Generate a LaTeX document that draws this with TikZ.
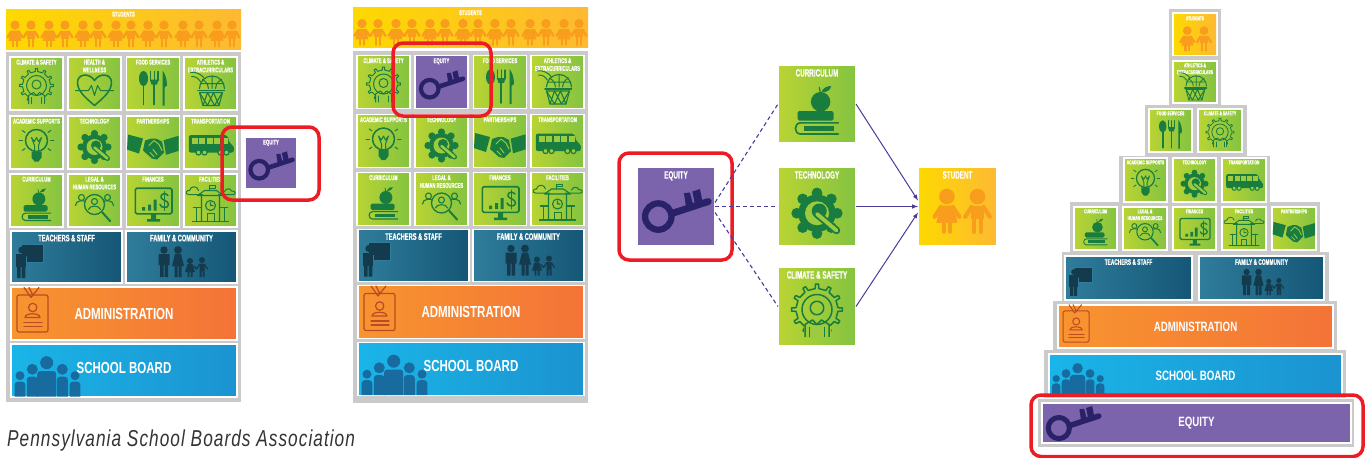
\documentclass[tikz,border=0pt]{standalone}
\usepackage{fontspec}
\newfontfamily\tilefont[FakeStretch=0.6,FakeBold=0.5]{Liberation Sans}
\newfontfamily\barfont[FakeStretch=0.72]{Liberation Sans}
\newfontfamily\capfont[FakeStretch=0.75,LetterSpace=4.5]{Liberation Sans}

\definecolor{panelgrey}{HTML}{CBCACA}
\definecolor{dkgreen}{HTML}{187D3F}
\definecolor{tilelight}{HTML}{9CCB3F}
\definecolor{keyblue}{HTML}{2A2268}
\definecolor{childorange}{HTML}{F99D1C}
\definecolor{dkteal}{HTML}{143A4D}
\definecolor{badgered}{HTML}{BC4A22}
\definecolor{boardblue}{HTML}{176B9E}
\definecolor{linkblue}{HTML}{4B3A9C}
\definecolor{redbox}{HTML}{ED1C24}
\definecolor{tilegreenl}{HTML}{B9D433}
\definecolor{tilegreenr}{HTML}{84C341}
\definecolor{studentl}{HTML}{FDD900}
\definecolor{studentm}{HTML}{FFD166}
\definecolor{studentr}{HTML}{FDB933}
\definecolor{teall}{HTML}{2F7D9B}
\definecolor{tealr}{HTML}{155676}
\definecolor{adminl}{HTML}{F7952F}
\definecolor{adminr}{HTML}{F47338}
\definecolor{boardl}{HTML}{1AB5E8}
\definecolor{boardr}{HTML}{1B93D0}
\definecolor{equitypurple}{HTML}{7B64AB}

\def\icsc{1}
\def\labfont{\tilefont\bfseries\fontsize{7}{7.8}\selectfont}
\def\barfontset{\barfont\bfseries\fontsize{16}{18}\selectfont}
\def\labdrop{2.5}
\def\barup{0}

\tikzset{
    ic/.style={line width=#1*\icsc, line cap=round, line join=round},
    tilebox/.style={anchor=north west, inner sep=0, outer sep=0, draw=white, line width=1.5},
    greentile/.style={tilebox, left color=tilegreenl, right color=tilegreenr},
    studenttile/.style={tilebox, left color=studentl, middle color=studentm, right color=studentr},
    tealtile/.style={tilebox, left color=teall, right color=tealr},
    admintile/.style={tilebox, left color=adminl, right color=adminr},
    boardtile/.style={tilebox, left color=boardl, right color=boardr},
    equitytile/.style={tilebox, fill=equitypurple},
    tilelabel/.style={anchor=north, inner sep=0, align=center, text=white, font=\labfont},
    barlabel/.style={inner sep=0, text=white, font=\barfontset},
    redframe/.style={draw=redbox, line width=3.5, rounded corners=10},
    dashlink/.style={draw=linkblue, line width=1.1, dash pattern=on 4pt off 3pt},
    solidlink/.style={draw=linkblue, line width=1, -latex},
}

\tikzset{
    pics/key/.style={code={
        \draw[keyblue, ic=4.2] (-11.8,6.7) circle[radius=8.8];
        \draw[keyblue, ic=4.6] (-2,4.4) -- (21.5,-3.3);
        \fill[keyblue] (5.3,-8.9) -- (9.3,-9.3) -- (11.5,-1) -- (6.7,0.5) -- cycle;
        \fill[keyblue] (10.9,-10) -- (16,-11.6) -- (17.8,-2.5) -- (12.7,-1) -- cycle;
    }},
    pics/childa/.style={code={
        \fill[childorange] (0,-11) circle[radius=5.2];
        \fill[childorange] (-4.5,-5) -- (4.5,-5) -- (7,6.5) -- (-7,6.5) -- cycle;
        \draw[childorange, ic=2.8] (-4,-4) -- (-8.2,2.5) (4,-4) -- (8.2,2.5);
        \draw[childorange, ic=2.6] (-2.2,6) -- (-2.2,12.5) (2.2,6) -- (2.2,12.5);
    }},
    pics/childb/.style={code={
        \fill[childorange] (0,-11) circle[radius=5.2];
        \fill[childorange] (-4.5,-5) -- (4.5,-5) -- (4.5,4) -- (-4.5,4) -- cycle;
        \draw[childorange, ic=2.8] (-4,-4) -- (-8.2,2.5) (4,-4) -- (8.2,2.5);
        \draw[childorange, ic=3] (-2.3,4) -- (-2.3,12.5) (2.3,4) -- (2.3,12.5);
    }},
    pics/climategear/.style={code={
        \draw[dkgreen, ic=1, shift={(0,2)}] (-5:14) \foreach \a in {0,30,...,330}{ -- ({\a-5}:14) -- ({\a-3.5}:17) -- ({\a+3.5}:17) -- ({\a+5}:14) } -- cycle;
        \draw[dkgreen, ic=1] (0,2) circle[radius=10] (0,1) circle[radius=4.5];
        \fill[tilelight] (-9,13) rectangle (9,21);
        \draw[dkgreen, ic=1] (-8,20) -- (-8,12) -- (-3,9) -- (0,12) -- (3,9) -- (8,12) -- (8,20);
        \draw[dkgreen, ic=1] (-5,20) -- (-5,14) (5,20) -- (5,14);
    }},
    pics/heart/.style={code={
        \draw[dkgreen, ic=1.5] (0,22) .. controls (-8,15) and (-17,8) .. (-17,-1) .. controls (-17,-10) and (-5,-11) .. (0,-3) .. controls (5,-11) and (17,-10) .. (17,-1) .. controls (17,8) and (8,15) .. (0,22);
        \draw[dkgreen, ic=1] (-19,7) -- (-6,7) -- (-3,2) -- (0,12) -- (3,2) -- (6,7) -- (19,7);
    }},
    pics/cutlery/.style={code={
        \fill[dkgreen] (-9.5,-5) ellipse[x radius=4.5, y radius=7.5];
        \draw[dkgreen, ic=1.9] (-9.5,0) -- (-9.5,21);
        \draw[dkgreen, ic=1.2] (-2.5,-12) -- (-2.5,-3) (1.3,-12) -- (1.3,-3) (5,-12) -- (5,-3);
        \fill[dkgreen] (-3,-4) -- (5.5,-4) -- (4,1) -- (-1.5,1) -- cycle;
        \draw[dkgreen, ic=1.9] (1.3,0) -- (1.3,21);
        \fill[dkgreen] (9.5,-13) -- (9.5,22) -- (11.5,22) -- (11.5,4) -- (14,2) .. controls (14,-5) and (12,-10) .. (9.5,-13) -- cycle;
    }},
    pics/basket/.style={code={
        \draw[dkgreen, ic=1.1] (-11,5) arc[start angle=180, end angle=360, radius=12.5];
        \draw[dkgreen, ic=1] (1.5,-7.5) -- (1.5,5) (-8,-4) .. controls (-3,-1) and (-2,2) .. (-2,5) (11,-4) .. controls (6,-1) and (5,2) .. (5,5) (-10,0) -- (13,0);
        \draw[dkgreen, ic=1] (-20,-11) .. controls (-14,-12) and (-9,-9) .. (-6,-5) (-19,-7) .. controls (-14,-7) and (-12,-5) .. (-10,-2);
        \draw[dkgreen, ic=1.9] (-12.5,7) -- (14,7);
        \draw[dkgreen, ic=1.1] (-11,9) -- (12,9) -- (8.5,22) -- (-7.5,22) -- cycle;
        \draw[dkgreen, ic=1.1] (-11,9) -- (-3,22) -- (3,9) -- (8.5,22) (12,9) -- (4,22) -- (-3,9) -- (-7.5,22);
    }},
    pics/bulb/.style={code={
        \draw[dkgreen, ic=1.5] (0,-2) circle[radius=11];
        \fill[dkgreen] (-5,9) -- (5,9) -- (5,15) -- (2,19) -- (-2,19) -- (-5,15) -- cycle;
        \draw[dkgreen, ic=1] (-2,8) -- (-2,3) -- (-5,-5) -- (-2,-1) -- (0,-5) -- (2,-1) -- (5,-5) -- (2,3) -- (2,8);
        \foreach \a in {-35,0,35,145,180,215}{
            \draw[dkgreen, ic=1, shift={(0,-2)}] (\a:14) -- (\a:17.5);
        }
    }},
    pics/wrenchgear/.style={code={
        \fill[dkgreen] (0,4.5) circle[radius=12.5];
        \foreach \a in {0,45,...,315}{
            \fill[dkgreen, shift={(0,4.5)}] (\a:13.5) circle[radius=3.6];
        }
        \fill[tilelight] (0,4.5) circle[radius=8];
        \fill[dkgreen] (1.5,3) circle[radius=5];
        \draw[dkgreen, ic=5] (0.5,5.5) -- (13,16);
        \draw[tilelight, ic=2.6] (0,5) -- (13,16);
    }},
    pics/handshake/.style={code={
        \fill[dkgreen] (-25,-8) -- (-10,-4) -- (-14,11) -- (-26,7) -- cycle;
        \fill[dkgreen] (25.7,-6.7) -- (10.7,-2.3) -- (13,12.3) -- (25.7,8.3) -- cycle;
        \fill[dkgreen] (-8,-2) -- (-2,-4) -- (3,-4) -- (9,-1) -- (11,10) -- (4,17) -- (-1,16) -- (-10,8) -- cycle;
        \draw[tilelight, ic=1] (-4,3) -- (1,-2) -- (6,2) -- (9,8) (-3,10) -- (1,14) (0,7) -- (4,12);
    }},
    pics/bus/.style={code={
        \fill[dkgreen, rounded corners=2] (-21.7,-7.3) -- (17,-7.3) -- (19,1) -- (23.3,3) -- (23.3,10) -- (-21.7,10) -- cycle;
        \foreach \wx in {-19,-11.5,-4,3.5,11}{
            \fill[tilelight] (\wx,-5) rectangle ++(6,6);
        }
        \foreach \wx in {-12,-6,10,16}{
            \draw[dkgreen, fill=tilelight, ic=1.2] (\wx,10) circle[radius=2.6];
        }
    }},
    pics/applebooks/.style={code={
        \fill[dkgreen] (2.4,-1.5) circle[radius=6.5];
        \draw[dkgreen, ic=.8] (2.4,-7) -- (1.5,-11);
        \fill[dkgreen] (3,-8) .. controls (4,-11) and (7,-12) .. (9.5,-12) .. controls (9,-9) and (6,-7.5) .. (3,-8) -- cycle;
        \fill[dkgreen, rounded corners=1.5] (-13,4.7) -- (11,4.7) -- (11,11) -- (-13,11) -- cycle;
        \draw[dkgreen, ic=1.1] (14.2,12.6) -- (-11,12.6) .. controls (-15.5,12.6) and (-15.5,20) .. (-11,20) -- (14.2,20);
        \fill[dkgreen] (-9,14.5) rectangle (11.5,18.2);
    }},
    pics/hrpeople/.style={code={
        \draw[dkgreen, ic=1.3] (0,4) circle[radius=10];
        \draw[dkgreen, ic=2] (7.5,11.5) -- (15.7,20.7);
        \draw[dkgreen, ic=1.1] (0,1) circle[radius=3] (-6,9) .. controls (-5,4.5) and (5,4.5) .. (6,9);
        \draw[dkgreen, ic=1.1] (-13,-3) circle[radius=3] (13,-3) circle[radius=3];
        \draw[dkgreen, ic=1.1] (-19,5) .. controls (-19,-1) and (-10,0) .. (-9,1) (19,5) .. controls (19,-1) and (10,0) .. (9,1);
    }},
    pics/monitor/.style={code={
        \draw[dkgreen, ic=1.6, rounded corners=1.5] (-17.7,-12.3) rectangle (19,13.3);
        \fill[dkgreen] (-11,6.5) rectangle ++(3.2,3.5) (-5,4) rectangle ++(3.2,6) (0.5,-1) rectangle ++(3.2,11);
        \draw[dkgreen, ic=1.5] (15,-5) .. controls (13,-8) and (7,-7) .. (8,-3) .. controls (9,0) and (15.5,0) .. (15.5,4) .. controls (15.5,8) and (8,8) .. (7,4);
        \draw[dkgreen, ic=1] (11.3,-9) -- (11.3,10);
        \fill[dkgreen] (-2,13) rectangle (3,18.5) (-6,18.5) rectangle (7,21);
    }},
    pics/schoolhouse/.style={code={
        \draw[dkgreen, ic=1.1] (-13,-5) -- (13,-5) -- (6,-10) -- (-6,-10) -- cycle;
        \draw[dkgreen, ic=1] (-1,-10) -- (-1,-15) -- (5,-15) -- (5,-12.5) -- (-1,-12.5);
        \draw[dkgreen, ic=1.1] (-9,-5) -- (-9,21) (9,-5) -- (9,21) (0,5) circle[radius=5] (0,2) -- (0,5) -- (2.5,5);
        \draw[dkgreen, ic=1.3] (-17,7) -- (-9,7) (9,7) -- (17,7) (-14,7) -- (-14,21) (14,7) -- (14,21) (-18,21) -- (18,21);
        \draw[dkgreen, ic=1] (-3.5,21) -- (-3.5,13) -- (3.5,13) -- (3.5,21);
        \draw[dkgreen, ic=1] (-8,-6) -- (-22,-6) .. controls (-26,-6) and (-24,-11) .. (-21,-10) .. controls (-20,-15) and (-13,-15) .. (-12,-10);
        \draw[dkgreen, ic=1] (8,-6) -- (23,-6) .. controls (26,-6) and (25,-10) .. (21,-9.5) .. controls (20,-13) and (15,-12) .. (14,-9);
    }},
    pics/teacher/.style={code={
        \draw[teall, fill=dkteal, ic=.7] (10.7,-13) rectangle (32.3,5);
        \fill[dkteal] (10.7,-7) circle[radius=3.4];
        \fill[dkteal] (5,-3) rectangle (15,10);
        \draw[teall, ic=.7] (15.5,-1) -- (15.5,5);
        \draw[dkteal, ic=1.6] (14,-2) -- (23,1);
        \fill[dkteal] (6,10) rectangle (9.7,21) (10.7,10) rectangle (14.3,21);
    }},
    pics/family/.style={code={
        \fill[dkteal] (-17.5,-7) circle[radius=3.7] (-3.5,-7) circle[radius=3.9] (8.5,4) circle[radius=3] (20.5,3) circle[radius=3];
        \fill[dkteal] (-23,-3) rectangle (-12,8) (-21.5,8) rectangle (-18,20) (-17,8) rectangle (-13.5,20);
        \fill[dkteal] (-6.5,-3) -- (-0.5,-3) -- (2.5,9) -- (-9.5,9) -- cycle (-7,9) rectangle (-4,20) (-3,9) rectangle (0,20);
        \fill[dkteal] (6,7) -- (11,7) -- (13.5,15) -- (3.5,15) -- cycle (6,15) rectangle (7.8,20) (9.2,15) rectangle (11,20);
        \fill[dkteal] (18,6.5) rectangle (23,14) (18,14) rectangle (20,20) (21,14) rectangle (23,20);
        \draw[dkteal, ic=1.3] (23,7.5) -- (26,12) (18,7.5) -- (15,12) -- (12.5,9);
    }},
    pics/badge/.style={code={
        \draw[badgered, ic=1.2, rounded corners=2] (6,-18.5) rectangle (37,18.5);
        \draw[badgered, ic=1.2] (13,-26) -- (20,-16) -- (28,-26) (18,-26) -- (22,-18);
        \draw[badgered, ic=1.2] (21.7,-6) circle[radius=4.2] (14,4) .. controls (14,-1) and (29,-1) .. (29,4) -- cycle;
        \draw[badgered, ic=1.2] (13,9) -- (31,9) (13,13) -- (31,13);
    }},
    pics/boardfolk/.style={code={
        \foreach \cx/\hy/\hr/\hw/\top in {9/5.2/4.5/5.3/11.2, 64/5.2/4.5/5.3/11.2, 21.3/-1.2/5.5/5.5/6.2, 51.3/-1.2/5.5/5.5/6.2, 35.7/-7.8/6.5/9.5/0.5}{
            \fill[boardblue] (\cx,\hy) circle[radius=\hr];
            \fill[boardblue] (\cx-\hw,26) [rounded corners=3] -- (\cx-\hw,\top) -- (\cx+\hw,\top) [sharp corners] -- (\cx+\hw,26) -- cycle;
        }
    }},
}

\newcommand{\tile}[7]{
    \node[#6, minimum width={#4-#2}, minimum height={#5-#3}] (#1) at (#2,#3) {};
    \node[tilelabel] (#1-t) at ([yshift=-\labdrop]#1.north) {#7};
}
\newcommand{\bartile}[7]{
    \node[#6, minimum width={#4-#2}, minimum height={#5-#3}] (#1) at (#2,#3) {};
    \node[barlabel] (#1-t) at ([yshift=\barup]#1.center) {#7};
}
\newcommand{\tileicon}[3]{
    \def\icsc{#3}
    \pic[scale=#3] at (#1) {#2};
}

% one of the two school panels
\newcommand{\schoolpanel}[1]{
    \fill[panelgrey] (6,52) rectangle (241,402);
    \tile{#1band}{6}{9}{241}{49}{studenttile, draw=none}{STUDENTS}
    \foreach \cx/\ck in {15/childa,31/childb,49/childa,65/childb,83/childa,98/childb,116/childa,131/childb,148/childa,164/childb,183/childa,199/childb,217/childa,232/childb}{
        \tileicon{\cx,35}{\ck}{.9}
    }
    \foreach \nm/\tx/\ty/\lab/\ic in {
        climate/10/57/{CLIMATE \& SAFETY}/climategear,
        food/126.5/57/{FOOD SERVICES}/cutlery,
        athletics/184/57/{ATHLETICS \&\\EXTRACURRICULARS}/basket,
        academic/10/116/{ACADEMIC SUPPORTS}/bulb,
        technology/68/116/{TECHNOLOGY}/wrenchgear,
        partnerships/126.5/116/{PARTNERSHIPS}/handshake,
        transport/184/116/{TRANSPORTATION}/bus,
        curriculum/10/174/{CURRICULUM}/applebooks,
        legal/68/174/{LEGAL \&\\HUMAN RESOURCES}/hrpeople,
        finances/126.5/174/{FINANCES}/monitor,
        facilities/184/174/{FACILITIES}/schoolhouse}{
        \pgfmathsetmacro{\txx}{\tx+53}
        \pgfmathsetmacro{\tyy}{\ty+53}
        \tile{#1\nm}{\tx}{\ty}{\txx}{\tyy}{greentile}{\lab}
        \tileicon{#1\nm.center}{\ic}{1}
    }
    \begingroup
    \def\labfont{\tilefont\bfseries\fontsize{9.5}{11}\selectfont}
    \def\labdrop{3.5}
    \tile{#1teachers}{11}{231}{122}{283}{tealtile}{TEACHERS \& STAFF}
    \tileicon{#1teachers.west}{teacher}{1}
    \tile{#1family}{126}{231}{237}{283}{tealtile}{FAMILY \& COMMUNITY}
    \tileicon{#1family.center}{family}{1}
    \endgroup
    \bartile{#1admin}{11}{287}{237}{340}{admintile}{ADMINISTRATION}
    \tileicon{#1admin.west}{badge}{1}
    \def\barup{3}
    \bartile{#1board}{11}{344}{237}{397}{boardtile}{SCHOOL BOARD}
    \def\barup{0}
    \tileicon{#1board.west}{boardfolk}{1}
}

\begin{document}
\begin{tikzpicture}[x=1pt, y=-1pt]
    \useasboundingbox (0,0) rectangle (1369,458);

    % first panel
    \schoolpanel{a-}
    \tile{a-health}{68}{57}{121}{110}{greentile}{HEALTH \&\\WELLNESS}
    \tileicon{a-health.center}{heart}{1}
    \tile{a-equity}{245}{137}{297}{189}{equitytile}{EQUITY}
    \tileicon{a-equity.center}{key}{1}
    \draw[redframe] (222,127) rectangle (319,200);

    % second panel
    \fill[panelgrey] (353,399) rectangle (588,403);
    \begin{scope}[shift={(347,-1.5)}]
        \schoolpanel{b-}
        \tile{b-equity}{68}{57}{121}{110}{equitytile}{EQUITY}
        \tileicon{b-equity.center}{key}{1}
    \end{scope}
    \draw[redframe] (393,43) rectangle (491,116);

    % flow in the middle
    \def\labfont{\tilefont\bfseries\fontsize{10.5}{12}\selectfont}
    \def\labdrop{4}
    \tile{equity}{637}{167}{715}{246}{equitytile}{EQUITY}
    \tileicon{equity.center}{key}{1.5}
    \tile{curriculum}{778}{65}{856}{143}{greentile}{CURRICULUM}
    \tileicon{curriculum.center}{applebooks}{1.5}
    \tile{technology}{778}{167}{856}{246}{greentile}{TECHNOLOGY}
    \tileicon{technology.center}{wrenchgear}{1.5}
    \tile{climate}{778}{267}{856}{346}{greentile}{CLIMATE \& SAFETY}
    \tileicon{climate.center}{climategear}{1.5}
    \tile{student}{918}{167}{997}{246}{studenttile}{STUDENT}
    \tileicon{[shift={(-10.6,6.5)}]student.center}{childa}{1.5}
    \tileicon{[shift={(20,6.5)}]student.center}{childb}{1.5}
    \draw[redframe] (619,153) rectangle (732,260);

    \draw[dashlink] ([yshift=4]equity.east) -- (curriculum.west);
    \draw[dashlink] (equity.east) -- (technology.west);
    \draw[dashlink] ([yshift=-6]equity.east) -- (climate.west);
    \draw[solidlink] (curriculum.east) -- ([yshift=6]student.west);
    \draw[solidlink] (technology.east) -- (student.west);
    \draw[solidlink] (climate.east) -- ([yshift=-6]student.west);

    % pyramid
    \foreach \gx/\gy/\hx/\hy in {1169/9/1221/58, 1169/58/1221/105, 1145/105/1247/156, 1119/156/1270/202, 1070/202/1320/252, 1062/252/1329/301, 1053/301/1337/350, 1044/350/1346/398, 1038/399/1354/447}{
        \fill[panelgrey] (\gx,\gy) rectangle (\hx,\hy);
    }
    \fill[white] (1172,12) rectangle (1218,56);
    \def\labfont{\tilefont\bfseries\fontsize{5.6}{6.8}\selectfont}
    \def\labdrop{2.2}
    \tile{p-student}{1174}{14}{1216}{54}{studenttile, draw=none}{STUDENTS}
    \tileicon{[shift={(-7.7,6)}]p-student.center}{childa}{.85}
    \tileicon{[shift={(9,6)}]p-student.center}{childb}{.85}
    \foreach \nm/\tx/\ty/\ux/\uy/\lab/\ic in {
        athletics/1173/61/1217/103/{ATHLETICS \&\\EXTRACURRICULARS}/basket,
        food/1149/109/1192/152/{FOOD SERVICES}/cutlery,
        climate/1198/109/1242/152/{CLIMATE \& SAFETY}/climategear,
        academic/1124/158/1167/202/{ACADEMIC SUPPORTS}/bulb,
        technology/1173/158/1216/202/{TECHNOLOGY}/wrenchgear,
        transport/1222/158/1266/202/{TRANSPORTATION}/bus,
        curriculum/1074/207/1117/250/{CURRICULUM}/applebooks,
        legal/1123/207/1167/250/{LEGAL \&\\HUMAN RESOURCES}/hrpeople,
        finances/1173/207/1216/250/{FINANCES}/monitor,
        facilities/1222/207/1266/250/{FACILITIES}/schoolhouse,
        partnerships/1272/207/1316/250/{PARTNERSHIPS}/handshake}{
        \tile{p-\nm}{\tx}{\ty}{\ux}{\uy}{greentile}{\lab}
        \tileicon{p-\nm.center}{\ic}{.82}
    }
    \def\labfont{\tilefont\bfseries\fontsize{8}{9}\selectfont}
    \def\labdrop{3}
    \tile{p-teachers}{1065}{256}{1192}{300}{tealtile}{TEACHERS \& STAFF}
    \tileicon{p-teachers.west}{teacher}{.85}
    \tile{p-family}{1199}{256}{1324}{300}{tealtile}{FAMILY \& COMMUNITY}
    \tileicon{p-family.center}{family}{.85}
    \def\barfontset{\barfont\bfseries\fontsize{13.5}{16}\selectfont}
    \bartile{p-admin}{1058}{305}{1333}{348}{admintile}{ADMINISTRATION}
    \tileicon{p-admin.west}{badge}{.84}
    \def\barup{-1.5}
    \bartile{p-board}{1049}{354}{1342}{395}{boardtile}{SCHOOL BOARD}
    \def\barup{0}
    \tileicon{p-board.west}{boardfolk}{.8}
    \bartile{p-equity}{1042}{403}{1351}{443}{equitytile}{EQUITY}
    \tileicon{[xshift=31,yshift=3]p-equity.west}{key}{1.2}
    \draw[redframe] (1031,395) rectangle (1363,456.5);

    % source line
    \node[anchor=west, inner sep=0, text=black!80, font=\capfont\itshape\fontsize{23}{26}\selectfont] (caption) at (7,441) {Pennsylvania School Boards Association};
\end{tikzpicture}
\end{document}
